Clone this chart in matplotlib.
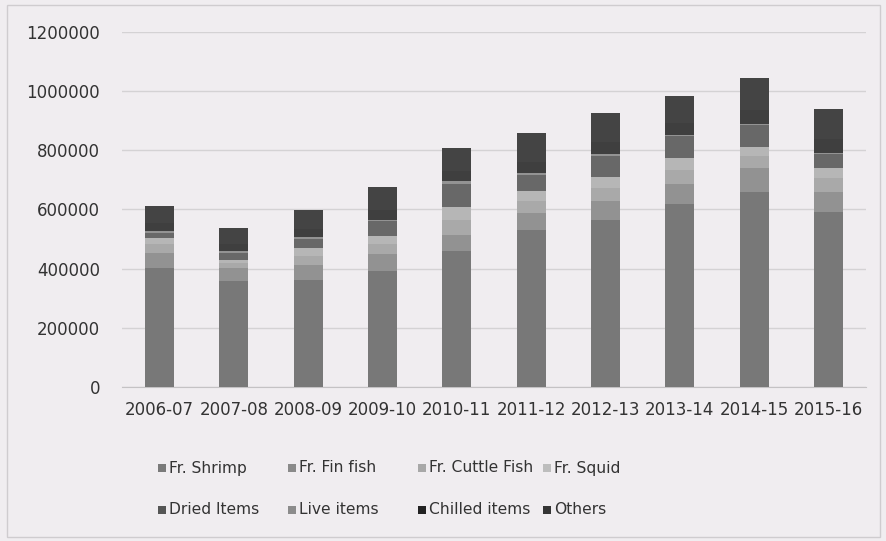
import matplotlib
matplotlib.use("Agg")
import matplotlib.pyplot as plt
import matplotlib.patches as mpatches
import numpy as np

# export quantity by item (tonnes), one value per year
years = ['2006-07', '2007-08', '2008-09', '2009-10', '2010-11',
         '2011-12', '2012-13', '2013-14', '2014-15', '2015-16']
fr_shrimp = [403000, 359000, 362000, 392000, 460000, 531000, 565000, 619000, 660000, 592000]
fr_fin_fish = [51000, 44000, 51000, 57000, 54000, 58000, 64000, 68000, 81000, 68000]
fr_cuttle_fish = [28000, 15000, 31000, 33000, 52000, 41000, 45000, 48000, 39000, 45000]
fr_squid = [23000, 12000, 26000, 28000, 43000, 33000, 36000, 40000, 32000, 36000]
dried_items = [17000, 24000, 30000, 51000, 78000, 54000, 71000, 74000, 74000, 47000]
live_items = [6000, 6000, 7000, 5000, 8000, 5000, 5000, 4000, 4000, 4000]
chilled_items = [25000, 23000, 27000, 32000, 34000, 40000, 42000, 38000, 47000, 45000]
others = [60000, 55000, 64000, 79000, 80000, 95000, 97000, 91000, 109000, 104000]

series = [
    ('Fr. Shrimp', fr_shrimp, '#787878'),
    ('Fr. Fin fish', fr_fin_fish, '#929292'),
    ('Fr. Cuttle Fish', fr_cuttle_fish, '#a9a9a9'),
    ('Fr. Squid', fr_squid, '#b6b6b6'),
    ('Dried Items', dried_items, '#686868'),
    ('Live items', live_items, '#939393'),
    ('Chilled items', chilled_items, '#3f3f3f'),
    ('Others', others, '#444444'),
]
legend_colors = ['#7a7a7a', '#8a8a8a', '#a8a8a8', '#bdbdbd',
                 '#555555', '#8c8c8c', '#222222', '#353535']

bg = '#f0edf0'
txt = '#333333'

fig = plt.figure(figsize=(8.86, 5.41), dpi=100, facecolor=bg)
ax = fig.add_axes([0.138, 0.2847, 0.839, 0.6562], facecolor=bg)

x = np.arange(len(years))
bottom = np.zeros(len(years))
for name, vals, col in series:
    ax.bar(x, vals, width=0.39, bottom=bottom, color=col, linewidth=0, zorder=3)
    bottom += np.array(vals)

ax.set_xlim(-0.5, len(years) - 0.5)
ax.set_ylim(0, 1200000)
ax.set_yticks(np.arange(0, 1200001, 200000))
ax.set_yticklabels([str(v) for v in range(0, 1200001, 200000)])
ax.set_xticks(x)
ax.set_xticklabels(years)
ax.grid(axis='y', color='#d4d2d4', linewidth=1, zorder=0)
for s in ['top', 'right', 'left']:
    ax.spines[s].set_visible(False)
ax.spines['bottom'].set_color('#c4c2c4')
ax.tick_params(axis='both', length=0, labelsize=12, colors=txt)
ax.tick_params(axis='y', pad=16)
ax.tick_params(axis='x', pad=10)

# legend laid out in two rows of four fixed-width columns
col_x = [158, 288, 418, 543]
row_y = [468, 510]
W, H = 886, 541
for i, (name, vals, col) in enumerate(series):
    r, c = divmod(i, 4)
    x0 = col_x[c]
    y0 = row_y[r]
    fig.add_artist(mpatches.Rectangle((x0 / W, 1 - (y0 + 4) / H), 8 / W, 8 / H,
                                      transform=fig.transFigure,
                                      color=legend_colors[i], linewidth=0))
    fig.text((x0 + 11) / W, 1 - y0 / H, name, fontsize=11.2, color=txt,
             va='center', ha='left')

# chart border
fig.add_artist(mpatches.Rectangle((7 / W, 4 / H), 873 / W, 532 / H,
                                  transform=fig.transFigure, fill=False,
                                  edgecolor='#cfcccf', linewidth=1))

fig.savefig('out.png', dpi=100, facecolor=bg)
